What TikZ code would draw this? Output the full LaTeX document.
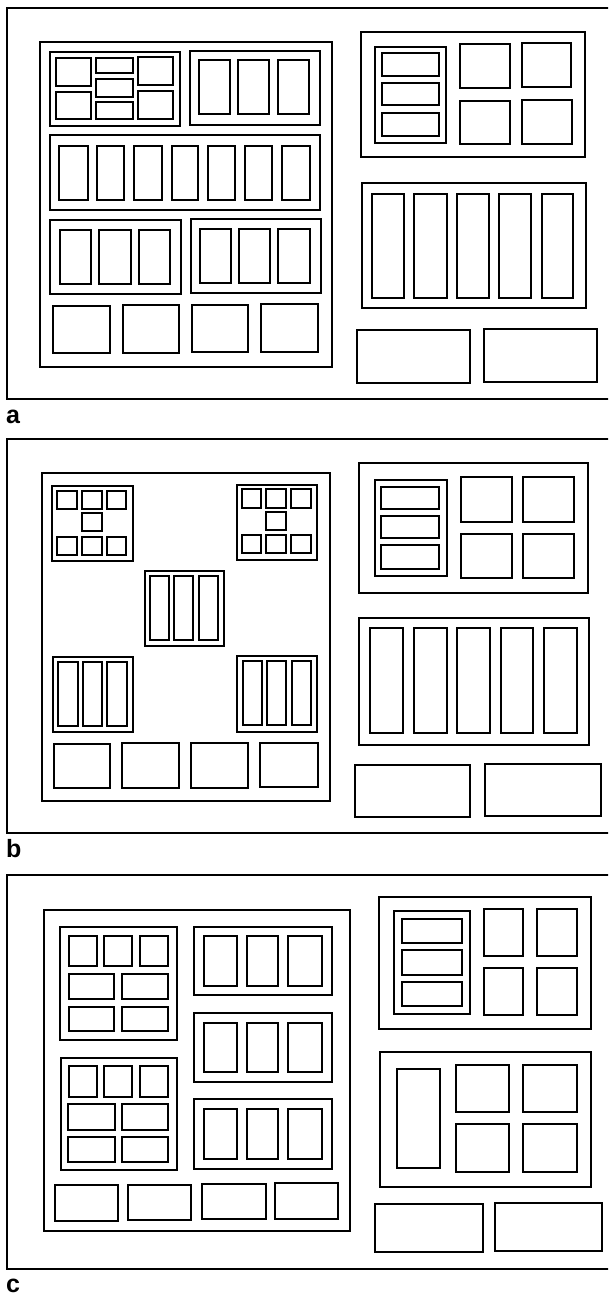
\documentclass[tikz,border=0pt]{standalone}
\usepackage{fontspec}
\setmainfont{Liberation Sans}
\begin{document}
\begin{tikzpicture}[x=1pt,y=-1pt,
  frame/.style={draw=black,line width=1.4pt},
  grp/.style={draw=black,line width=1.2pt},
  cell/.style={draw=black,line width=1.5pt},
  lbl/.style={anchor=base west,inner sep=0pt,font=\fontsize{25}{25}\selectfont\bfseries}]
\useasboundingbox (0,0) rectangle (608,1295);
\clip (0,0) rectangle (608,1295);
\fill[white] (0,0) rectangle (608,1295);
% ================= panel a =================
\draw[frame] (7,8) rectangle (620,399);
\draw[grp] (40,42) rectangle (332,367);
\draw[grp] (50,52) rectangle (180,126);
\foreach \a/\b/\c/\d in {56/58/91/86,56/92/91/119,96/58/133/73,96/79/133/97,96/102/133/119,138/57/173/85,138/91/173/119}
  \draw[cell] (\a,\b) rectangle (\c,\d);
\draw[grp] (190,51) rectangle (320,125);
\foreach \a/\c in {199/230,238/269,278/309} \draw[cell] (\a,60) rectangle (\c,114);
\draw[grp] (50,135) rectangle (320,210);
\foreach \a/\c in {59/88,97/124,134/162,172/198,208/235,245/272,282/310} \draw[cell] (\a,146) rectangle (\c,200);
\draw[grp] (50,220) rectangle (181,294);
\foreach \a/\c in {60/91,99/131,139/170} \draw[cell] (\a,230) rectangle (\c,284);
\draw[grp] (191,219) rectangle (321,293);
\foreach \a/\c in {200/231,239/270,278/310} \draw[cell] (\a,229) rectangle (\c,283);
\foreach \a/\b/\c/\d in {53/306/110/353,123/305/179/353,192/305/248/352,261/304/318/352}
  \draw[cell] (\a,\b) rectangle (\c,\d);
\draw[grp] (361,32) rectangle (585,157);
\draw[cell] (375,47) rectangle (446,143);
\foreach \b/\d in {53/76,83/105,113/136} \draw[cell] (382,\b) rectangle (439,\d);
\foreach \a/\b/\c/\d in {460/44/510/88,522/43/571/87,460/101/510/144,522/100/572/144}
  \draw[cell] (\a,\b) rectangle (\c,\d);
\draw[grp] (362,183) rectangle (586,308);
\foreach \a/\c in {372/404,414/447,457/489,499/531,542/573} \draw[cell] (\a,194) rectangle (\c,298);
\draw[cell] (357,330) rectangle (470,383);
\draw[cell] (484,329) rectangle (597,382);
\node[lbl] (la) at (6,423) {a};
% ================= panel b =================
\draw[frame] (7,439) rectangle (620,833);
\draw[grp] (42,473) rectangle (330,801);
\draw[grp] (52,486) rectangle (133,561);
\foreach \a/\c in {57/77,82/102,107/126} {\draw[cell] (\a,491) rectangle (\c,509); \draw[cell] (\a,537) rectangle (\c,555);}
\draw[cell] (82,513) rectangle (102,531);
\draw[grp] (237,485) rectangle (317,560);
\foreach \a/\c in {242/261,266/286,291/311} {\draw[cell] (\a,489) rectangle (\c,508); \draw[cell] (\a,535) rectangle (\c,553);}
\draw[cell] (266,512) rectangle (286,530);
\draw[grp] (145,571) rectangle (224,646);
\foreach \a/\c in {150/169,174/193,199/218} \draw[cell] (\a,576) rectangle (\c,640);
\draw[grp] (53,657) rectangle (133,732);
\foreach \a/\c in {58/78,83/102,107/127} \draw[cell] (\a,662) rectangle (\c,726);
\draw[grp] (237,656) rectangle (317,732);
\foreach \a/\c in {243/262,267/286,292/311} \draw[cell] (\a,661) rectangle (\c,725);
\foreach \a/\b/\c/\d in {54/744/110/788,122/743/179/788,191/743/248/788,260/743/318/787}
  \draw[cell] (\a,\b) rectangle (\c,\d);
\draw[grp] (359,463) rectangle (588,593);
\draw[cell] (375,480) rectangle (447,576);
\foreach \b/\d in {487/509,516/538,545/569} \draw[cell] (381,\b) rectangle (439,\d);
\foreach \a/\b/\c/\d in {461/477/512/522,523/477/574/522,461/534/512/578,523/534/574/578}
  \draw[cell] (\a,\b) rectangle (\c,\d);
\draw[grp] (359,618) rectangle (589,745);
\foreach \a/\c in {370/403,414/447,457/490,501/533,544/577} \draw[cell] (\a,628) rectangle (\c,733);
\draw[cell] (355,765) rectangle (470,817);
\draw[cell] (485,764) rectangle (601,816);
\node[lbl] (lb) at (6,857) {b};
% ================= panel c =================
\draw[frame] (7,875) rectangle (620,1269);
\draw[grp] (44,910) rectangle (350,1231);
\draw[grp] (60,927) rectangle (177,1040);
\foreach \a/\c in {69/97,104/132,140/168} \draw[cell] (\a,936) rectangle (\c,966);
\foreach \a/\c in {69/114,122/168} {\draw[cell] (\a,974) rectangle (\c,999); \draw[cell] (\a,1007) rectangle (\c,1031);}
\draw[grp] (61,1058) rectangle (177,1170);
\foreach \a/\c in {69/97,104/132,140/168} \draw[cell] (\a,1066) rectangle (\c,1097);
\foreach \a/\c in {68/115,122/168} {\draw[cell] (\a,1104) rectangle (\c,1130); \draw[cell] (\a,1137) rectangle (\c,1162);}
\foreach \t/\u in {927/995,1013/1082,1099/1169} \draw[grp] (194,\t) rectangle (332,\u);
\foreach \b/\d in {936/986,1023/1072,1109/1159}
  \foreach \a/\c in {204/237,247/278,288/322} \draw[cell] (\a,\b) rectangle (\c,\d);
\foreach \a/\b/\c/\d in {55/1185/118/1221,128/1185/191/1220,202/1184/266/1219,275/1183/338/1219}
  \draw[cell] (\a,\b) rectangle (\c,\d);
\draw[grp] (379,897) rectangle (591,1029);
\draw[cell] (394,911) rectangle (470,1014);
\foreach \b/\d in {919/943,950/975,982/1006} \draw[cell] (402,\b) rectangle (462,\d);
\foreach \a/\c in {484/523,537/577} {\draw[cell] (\a,909) rectangle (\c,956); \draw[cell] (\a,968) rectangle (\c,1015);}
\draw[grp] (380,1052) rectangle (591,1187);
\draw[cell] (397,1069) rectangle (440,1168);
\foreach \a/\c in {456/509,523/577} {\draw[cell] (\a,1065) rectangle (\c,1112); \draw[cell] (\a,1124) rectangle (\c,1172);}
\draw[cell] (375,1204) rectangle (483,1252);
\draw[cell] (495,1203) rectangle (602,1251);
\node[lbl] (lc) at (6,1292) {c};
\end{tikzpicture}
\end{document}
